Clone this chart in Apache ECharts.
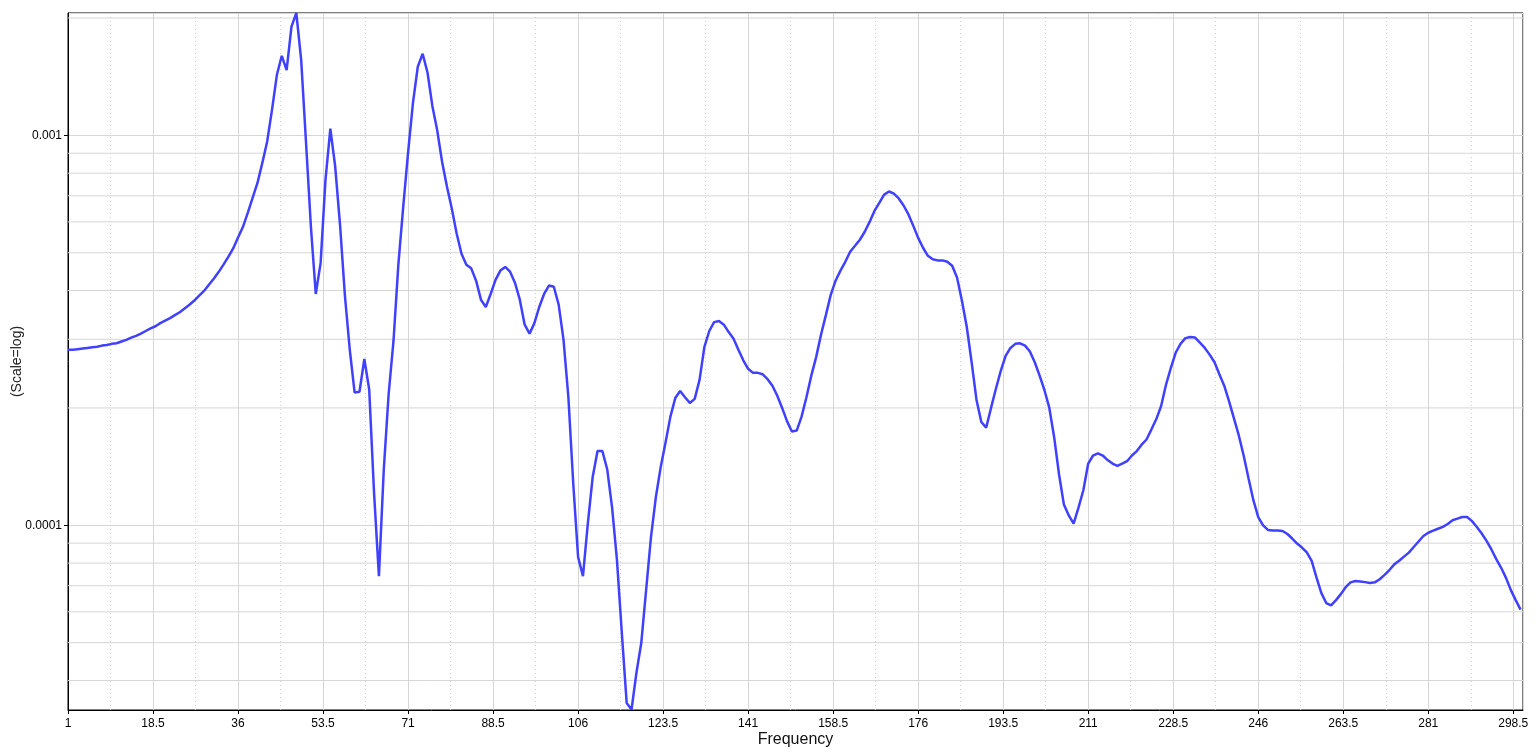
<!DOCTYPE html>
<html>
<head>
<meta charset="utf-8">
<script src="https://cdn.jsdelivr.net/npm/echarts@6/dist/echarts.min.js"></script>
<style>
html,body{margin:0;padding:0;background:#fff;}
#chart{width:1536px;height:752px;}
</style>
</head>
<body>
<div id="chart"></div>
<script>
const frequencies = [
1,2,3,4,5,6,7,8,9,10,11,12,13,14,15,16,17,18,19,20,21,22,23,24,25,26,27,28,29,30,
31,32,33,34,35,36,37,38,39,40,41,42,43,44,45,46,47,48,49,50,51,52,53,54,55,56,57,58,59,60,
61,62,63,64,65,66,67,68,69,70,71,72,73,74,75,76,77,78,79,80,81,82,83,84,85,86,87,88,89,90,
91,92,93,94,95,96,97,98,99,100,101,102,103,104,105,106,107,108,109,110,111,112,113,114,115,116,117,118,119,120,
121,122,123,124,125,126,127,128,129,130,131,132,133,134,135,136,137,138,139,140,141,142,143,144,145,146,147,148,149,150,
151,152,153,154,155,156,157,158,159,160,161,162,163,164,165,166,167,168,169,170,171,172,173,174,175,176,177,178,179,180,
181,182,183,184,185,186,187,188,189,190,191,192,193,194,195,196,197,198,199,200,201,202,203,204,205,206,207,208,209,210,
211,212,213,214,215,216,217,218,219,220,221,222,223,224,225,226,227,228,229,230,231,232,233,234,235,236,237,238,239,240,
241,242,243,244,245,246,247,248,249,250,251,252,253,254,255,256,257,258,259,260,261,262,263,264,265,266,267,268,269,270,
271,272,273,274,275,276,277,278,279,280,281,282,283,284,285,286,287,288,289,290,291,292,293,294,295,296,297,298,299,300
];
const amplitude = [
2.82e-4,2.82e-4,2.83e-4,2.84e-4,2.85e-4,2.86e-4,2.87e-4,2.89e-4,2.90e-4,2.92e-4,
2.93e-4,2.96e-4,2.99e-4,3.03e-4,3.06e-4,3.10e-4,3.15e-4,3.20e-4,3.24e-4,3.30e-4,
3.35e-4,3.40e-4,3.46e-4,3.52e-4,3.60e-4,3.68e-4,3.77e-4,3.88e-4,3.99e-4,4.14e-4,
4.29e-4,4.46e-4,4.66e-4,4.88e-4,5.13e-4,5.47e-4,5.82e-4,6.33e-4,6.91e-4,7.55e-4,
8.50e-4,9.65e-4,1.164e-3,1.43e-3,1.60e-3,1.47e-3,1.90e-3,2.06e-3,1.56e-3,9.56e-4,
5.83e-4,3.92e-4,4.71e-4,7.69e-4,1.04e-3,8.32e-4,5.89e-4,3.88e-4,2.82e-4,2.19e-4,
2.20e-4,2.67e-4,2.23e-4,1.21e-4,7.41e-5,1.39e-4,2.17e-4,2.97e-4,4.66e-4,6.56e-4,
9.03e-4,1.21e-3,1.50e-3,1.62e-3,1.45e-3,1.19e-3,1.03e-3,8.56e-4,7.39e-4,6.49e-4,
5.60e-4,4.97e-4,4.66e-4,4.56e-4,4.24e-4,3.79e-4,3.63e-4,3.92e-4,4.26e-4,4.50e-4,
4.60e-4,4.47e-4,4.19e-4,3.79e-4,3.27e-4,3.10e-4,3.30e-4,3.63e-4,3.92e-4,4.12e-4,
4.09e-4,3.68e-4,2.99e-4,2.13e-4,1.28e-4,8.29e-5,7.41e-5,1.01e-4,1.33e-4,1.55e-4,
1.55e-4,1.39e-4,1.11e-4,8.14e-5,5.30e-5,3.50e-5,3.37e-5,4.18e-5,4.99e-5,6.82e-5,
9.33e-5,1.18e-4,1.41e-4,1.63e-4,1.90e-4,2.12e-4,2.21e-4,2.13e-4,2.06e-4,2.11e-4,
2.36e-4,2.87e-4,3.15e-4,3.32e-4,3.34e-4,3.27e-4,3.13e-4,3.01e-4,2.82e-4,2.65e-4,
2.52e-4,2.46e-4,2.46e-4,2.44e-4,2.37e-4,2.28e-4,2.15e-4,2.00e-4,1.85e-4,1.74e-4,
1.75e-4,1.90e-4,2.13e-4,2.42e-4,2.70e-4,3.08e-4,3.46e-4,3.90e-4,4.24e-4,4.50e-4,
4.74e-4,5.03e-4,5.21e-4,5.40e-4,5.66e-4,6.00e-4,6.40e-4,6.71e-4,7.05e-4,7.18e-4,
7.09e-4,6.89e-4,6.61e-4,6.27e-4,5.86e-4,5.46e-4,5.15e-4,4.91e-4,4.81e-4,4.78e-4,
4.78e-4,4.74e-4,4.63e-4,4.32e-4,3.77e-4,3.23e-4,2.62e-4,2.10e-4,1.84e-4,1.78e-4,
2.00e-4,2.24e-4,2.49e-4,2.72e-4,2.85e-4,2.92e-4,2.93e-4,2.89e-4,2.79e-4,2.62e-4,
2.42e-4,2.22e-4,2.00e-4,1.68e-4,1.35e-4,1.13e-4,1.06e-4,1.01e-4,1.11e-4,1.23e-4,
1.44e-4,1.51e-4,1.53e-4,1.51e-4,1.47e-4,1.44e-4,1.42e-4,1.44e-4,1.46e-4,1.51e-4,
1.55e-4,1.61e-4,1.66e-4,1.76e-4,1.87e-4,2.02e-4,2.29e-4,2.53e-4,2.77e-4,2.92e-4,
3.02e-4,3.04e-4,3.03e-4,2.94e-4,2.85e-4,2.74e-4,2.62e-4,2.44e-4,2.28e-4,2.08e-4,
1.88e-4,1.70e-4,1.51e-4,1.32e-4,1.16e-4,1.05e-4,1.00e-4,9.73e-5,9.70e-5,9.70e-5,
9.67e-5,9.50e-5,9.25e-5,8.98e-5,8.77e-5,8.52e-5,8.11e-5,7.34e-5,6.70e-5,6.32e-5,
6.23e-5,6.43e-5,6.66e-5,6.94e-5,7.14e-5,7.20e-5,7.18e-5,7.15e-5,7.11e-5,7.14e-5,
7.27e-5,7.46e-5,7.68e-5,7.94e-5,8.11e-5,8.31e-5,8.51e-5,8.80e-5,9.09e-5,9.39e-5,
9.57e-5,9.69e-5,9.80e-5,9.91e-5,1.008e-4,1.03e-4,1.04e-4,1.05e-4,1.05e-4,1.025e-4,
9.90e-5,9.53e-5,9.12e-5,8.67e-5,8.19e-5,7.78e-5,7.33e-5,6.82e-5,6.43e-5,6.08e-5
];
const xTickStart = 1;
const xTickStep = 17.5;
const xMax = 300.5;
const yMin = 3.36e-5;
const yMax = 2.06e-3;
const yMinorGrid = [2e-3, 9e-4, 8e-4, 7e-4, 6e-4, 5e-4, 4e-4, 3e-4, 2e-4, 9e-5, 8e-5, 7e-5, 6e-5, 5e-5, 4e-5];
const xName = 'Frequency';
const yName = '(Scale=log)';

const seriesData = frequencies.map((f, i) => [f, amplitude[i]]);
const gridColor = '#d6d6d6';
const labelFont = "'Liberation Sans',Arial,sans-serif";

const minorGridSeries = yMinorGrid.map(v => ({
  type: 'line', silent: true, z: 1, showSymbol: false, symbol: 'none',
  data: [[xTickStart, v], [xMax, v]],
  lineStyle: {color: gridColor, width: 1, type: 'solid'},
  itemStyle: {color: gridColor},
  emphasis: {disabled: true}, tooltip: {show: false}
}));

const chart = echarts.init(document.getElementById('chart'), null, {renderer: 'canvas'});
chart.setOption({
  animation: false,
  backgroundColor: '#fff',
  grid: {left: 68, right: 13, top: 13, bottom: 42, show: true, borderColor: '#000', borderWidth: 1,
    containLabel: false, outerBoundsMode: 'none'},
  xAxis: {
    type: 'value', min: xTickStart, max: xMax, interval: xTickStep,
    name: xName, nameLocation: 'middle', nameGap: 22, nameMoveOverlap: false,
    nameTextStyle: {fontFamily: "'Liberation Sans',Arial,sans-serif", fontSize: 16, color: '#111'},
    axisLine: {show: true, lineStyle: {color: '#000', width: 1}},
    axisTick: {show: true, length: 4, lineStyle: {color: '#000'}},
    axisLabel: {show: true, margin: 8, fontFamily: labelFont, fontSize: 12, color: '#000', showMaxLabel: false,
      formatter: v => String(Number(v.toPrecision(6)))},
    splitLine: {show: true, lineStyle: {color: gridColor, width: 1}},
    minorTick: {show: false, splitNumber: 2},
    minorSplitLine: {show: true, lineStyle: {color: '#cfcfcf', type: [1, 3], width: 1}}
  },
  yAxis: {
    type: 'log', logBase: 10, min: yMin, max: yMax,
    name: yName, nameLocation: 'middle', nameGap: 44, nameRotate: 90, nameMoveOverlap: false,
    nameTextStyle: {fontFamily: "'Liberation Sans',Arial,sans-serif", fontSize: 14, color: '#222'},
    axisLine: {show: true, lineStyle: {color: '#000', width: 1}},
    axisTick: {show: true, length: 4, lineStyle: {color: '#000'}},
    axisLabel: {show: true, margin: 6, fontFamily: labelFont, fontSize: 12, color: '#000',
      showMinLabel: false, showMaxLabel: false,
      formatter: v => String(Number(v.toPrecision(6)))},
    splitLine: {show: true, lineStyle: {color: gridColor, width: 1}}
  },
  series: minorGridSeries.concat([
    {
      type: 'line', data: seriesData, showSymbol: false, symbol: 'none', z: 5,
      lineStyle: {color: '#4040ff', width: 2.5},
      itemStyle: {color: '#4040ff'}
    }
  ])
});
</script>
</body>
</html>
